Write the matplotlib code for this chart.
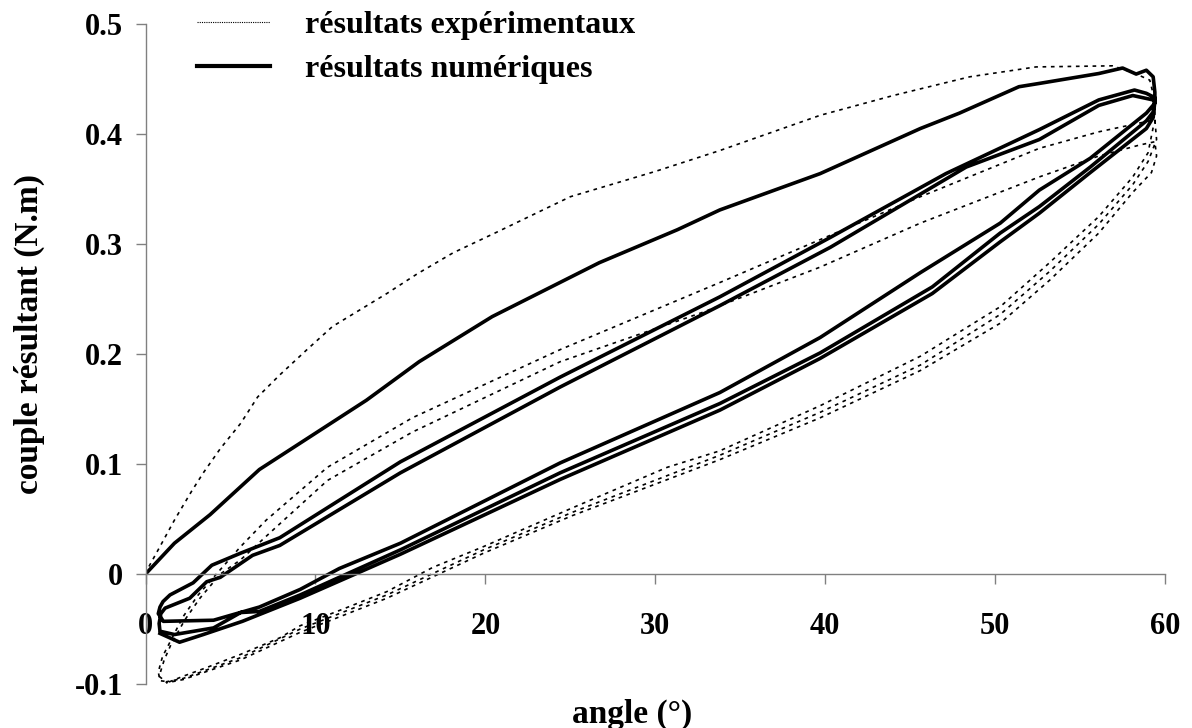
import matplotlib
matplotlib.use("Agg")
import matplotlib.pyplot as plt
import numpy as np

# ---- numerical results (solid), branch by branch ----
num_load_x = [0, 1.7, 3.8, 6.7, 10.3, 13.0, 16.1, 20.4, 26.7, 31.3, 33.8, 39.7, 45.6, 47.9,
              51.4, 52.6, 56.1, 57.5, 58.3, 58.9, 59.3, 59.4]
num_load_y = [0, 0.028, 0.054, 0.095, 0.131, 0.158, 0.193, 0.234, 0.283, 0.313, 0.331, 0.364,
              0.405, 0.419, 0.443, 0.446, 0.455, 0.460, 0.4545, 0.458, 0.452, 0.438]

num_unload1_x = [59.4, 58.9, 55.6, 52.6, 50.3, 45.6, 39.7, 33.8, 24.4, 15.0, 11.4, 9.1, 6.7, 4.0, 1.05, 0.75]
num_unload1_y = [0.428, 0.419, 0.378, 0.349, 0.319, 0.274, 0.215, 0.165, 0.101, 0.028, 0.005,
                 -0.014, -0.030, -0.042, -0.043, -0.036]

num_reload1_x = [0.85, 1.03, 1.44, 2.8, 3.9, 5.6, 7.9, 15.0, 24.4, 33.8, 40.3, 47.1, 52.6, 56.1, 58.2, 58.9, 59.4]
num_reload1_y = [-0.030, -0.025, -0.019, -0.008, 0.008, 0.019, 0.033, 0.102, 0.179, 0.252, 0.306,
                 0.364, 0.404, 0.431, 0.440, 0.437, 0.433]

num_unload2_x = [59.3, 58.9, 55.6, 52.6, 50.3, 46.3, 39.7, 33.8, 24.4, 15.0, 9.1, 6.7, 5.6, 4.0, 1.7, 0.85, 0.8]
num_unload2_y = [0.420, 0.412, 0.370, 0.334, 0.310, 0.261, 0.201, 0.155, 0.092, 0.022, -0.019,
                 -0.034, -0.035, -0.049, -0.055, -0.052, -0.045]

num_reload2_x = [0.9, 1.15, 2.6, 3.6, 4.4, 6.3, 7.9, 15.0, 24.4, 33.8, 40.3, 48.3, 52.6, 56.1, 58.1, 59.3]
num_reload2_y = [-0.036, -0.031, -0.022, -0.007, -0.003, 0.017, 0.026, 0.092, 0.170, 0.244, 0.297,
                 0.370, 0.395, 0.426, 0.435, 0.431]

num_unload3_x = [59.4, 59.3, 58.9, 55.6, 52.6, 50.3, 46.3, 39.7, 33.8, 24.4, 15.0, 9.1, 5.7, 3.4, 2.0, 0.85]
num_unload3_y = [0.430, 0.415, 0.405, 0.365, 0.328, 0.302, 0.255, 0.196, 0.149, 0.086, 0.018,
                 -0.022, -0.043, -0.055, -0.062, -0.054]

# ---- experimental results (dotted) ----
exp_load_x = [0, 0.1, 0.85, 1.7, 2.7, 3.4, 4.4, 5.6, 6.6, 7.9, 9.5, 11.0, 12.6, 14.2, 16.0, 18.1,
              20.7, 25.0, 30.0, 33.8, 39.7, 44.0, 48.5, 52.4, 56.9, 58.1, 59.1, 59.4]
exp_load_y = [0, 0.004, 0.025, 0.049, 0.075, 0.092, 0.114, 0.137, 0.161, 0.181, 0.204, 0.225, 0.240,
              0.255, 0.273, 0.292, 0.311, 0.343, 0.366, 0.385, 0.417, 0.435, 0.452, 0.461, 0.462,
              0.456, 0.449, 0.430]

exp_unload1_x = [59.4, 59.3, 59.0, 58.1, 56.1, 53.2, 50.3, 45.6, 39.7, 33.8, 30.7, 25.1, 19.9, 16.9,
                 14.2, 11.6, 9.1, 7.9, 5.6, 3.6, 2.2, 1.4, 0.85]
exp_unload1_y = [0.410, 0.406, 0.383, 0.361, 0.325, 0.283, 0.243, 0.198, 0.153, 0.112, 0.097, 0.060,
                 0.025, 0.006, -0.016, -0.032, -0.047, -0.058, -0.073, -0.085, -0.093, -0.098, -0.097]

exp_reload1_x = [0.75, 1.0, 1.4, 2.2, 3.1, 4.4, 5.6, 7.1, 10.7, 15.7, 24.4, 33.8, 39.7, 45.6, 52.6,
                 56.1, 58.5, 59.4]
exp_reload1_y = [-0.089, -0.075, -0.063, -0.039, -0.019, 0.004, 0.025, 0.049, 0.097, 0.142, 0.204,
                 0.265, 0.304, 0.343, 0.387, 0.402, 0.410, 0.413]

exp_unload2_x = [59.5, 59.0, 58.1, 56.1, 53.2, 50.3, 45.6, 39.7, 33.8, 25.1, 19.9, 14.2, 9.1, 5.6,
                 2.2, 1.2, 0.8]
exp_unload2_y = [0.395, 0.375, 0.354, 0.318, 0.275, 0.236, 0.190, 0.147, 0.108, 0.056, 0.022,
                 -0.019, -0.050, -0.076, -0.095, -0.098, -0.093]

exp_reload2_x = [1.1, 1.5, 2.3, 3.2, 4.4, 5.6, 7.5, 10.7, 15.7, 24.4, 32.8, 39.7, 45.6, 52.6, 56.1,
                 58.5, 59.4]
exp_reload2_y = [-0.078, -0.064, -0.042, -0.022, 0.000, 0.013, 0.040, 0.085, 0.129, 0.193, 0.238,
                 0.279, 0.319, 0.361, 0.380, 0.390, 0.393]

exp_unload3_x = [59.5, 59.2, 58.1, 56.1, 53.2, 50.3, 45.6, 39.7, 33.8, 25.1, 19.9, 14.2, 9.1, 5.6,
                 2.2, 1.2]
exp_unload3_y = [0.380, 0.365, 0.347, 0.310, 0.267, 0.228, 0.185, 0.142, 0.104, 0.053, 0.019,
                 -0.022, -0.053, -0.078, -0.096, -0.099]

x_ticks = [0, 10, 20, 30, 40, 50, 60]
y_ticks = [-0.1, 0, 0.1, 0.2, 0.3, 0.4, 0.5]
y_tick_labels = ["-0.1", "0", "0.1", "0.2", "0.3", "0.4", "0.5"]

num_x = num_load_x + num_unload1_x + num_reload1_x + num_unload2_x + num_reload2_x + num_unload3_x
num_y = num_load_y + num_unload1_y + num_reload1_y + num_unload2_y + num_reload2_y + num_unload3_y
exp_x = exp_load_x + exp_unload1_x + exp_reload1_x + exp_unload2_x + exp_reload2_x + exp_unload3_x
exp_y = exp_load_y + exp_unload1_y + exp_reload1_y + exp_unload2_y + exp_reload2_y + exp_unload3_y

plt.rcParams['font.family'] = ['Liberation Serif', 'DejaVu Serif']

fig = plt.figure(figsize=(11.92, 7.28), dpi=100)
ax = fig.add_axes([0.1221, 0.0604, 0.8553, 0.9066])

ax.plot(exp_x, exp_y, color='black', lw=1.2, linestyle=(0, (2.2, 2.8)),
        label='résultats expérimentaux')
ax.plot(num_x, num_y, color='black', lw=2.6, solid_joinstyle='round',
        label='résultats numériques')

ax.set_xlim(0, 60)
ax.set_ylim(-0.1, 0.5)

for s in ['top', 'right']:
    ax.spines[s].set_visible(False)
ax.spines['left'].set_position(('data', 0))
ax.spines['bottom'].set_position(('data', 0))
for s in ['left', 'bottom']:
    ax.spines[s].set_color('#808080')
    ax.spines[s].set_linewidth(1.0)

ax.set_xticks(x_ticks)
ax.set_yticks(y_ticks)
ax.set_yticklabels(y_tick_labels)
ax.tick_params(axis='both', colors='#808080', length=7, width=1, labelcolor='black',
               labelsize=22)
ax.tick_params(axis='x', direction='out', pad=20)
ax.tick_params(axis='y', direction='out', pad=9)
for lab in ax.get_xticklabels() + ax.get_yticklabels():
    lab.set_fontweight('bold')

ax.set_xlabel('angle (°)', fontsize=24, fontweight='bold')
ax.set_ylabel('couple résultant (N.m)', fontsize=24, fontweight='bold')
ax.xaxis.set_label_coords(0.477, -0.022)
ax.yaxis.set_label_coords(-0.099, 0.53)

leg = ax.legend(loc='upper left', bbox_to_anchor=(0.05, 1.02), frameon=False,
                fontsize=23, handlelength=2.3, handletextpad=1.1, labelspacing=0.45,
                borderpad=0, borderaxespad=0)
leg.get_lines()[0].set_linewidth(0.8)
leg.get_lines()[0].set_linestyle((0, (1, 1)))
leg.get_lines()[1].set_linewidth(3.0)
for t in leg.get_texts():
    t.set_fontweight('bold')

fig.savefig('out.png', dpi=100)
